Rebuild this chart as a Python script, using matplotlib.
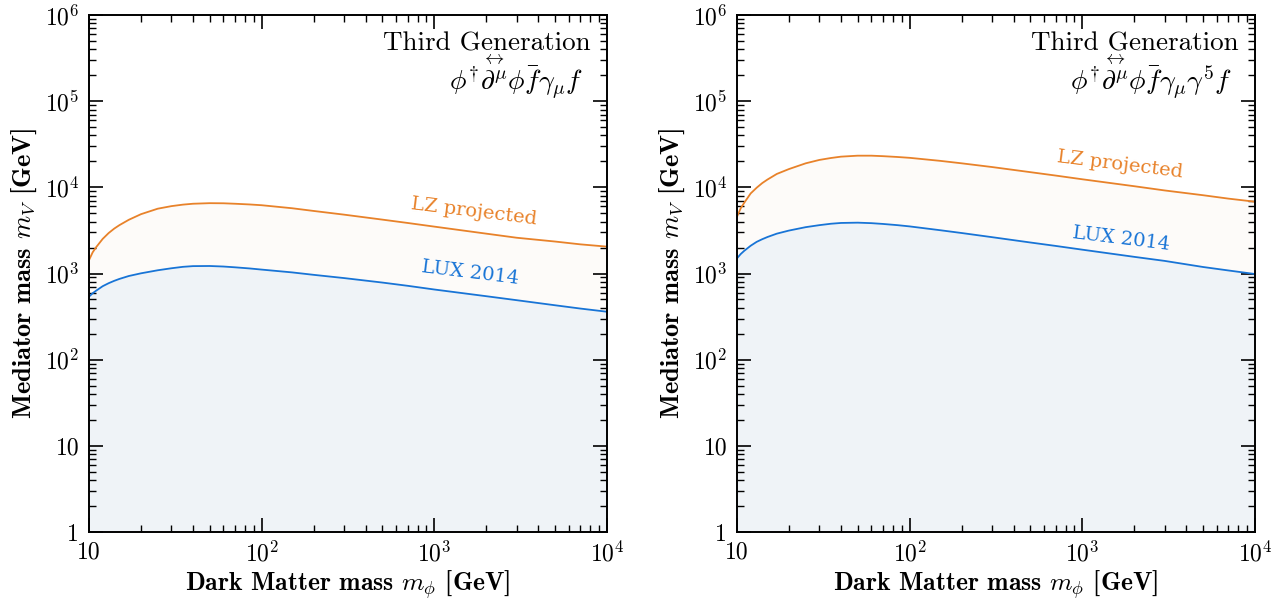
import math
import matplotlib
matplotlib.use('Agg')
import matplotlib.pyplot as plt
from matplotlib.ticker import FixedLocator, FuncFormatter, NullFormatter

plt.rcParams['font.family'] = ['cmr10', 'DejaVu Serif']
plt.rcParams['mathtext.fontset'] = 'cm'
plt.rcParams['axes.formatter.use_mathtext'] = True
plt.rcParams['axes.unicode_minus'] = False

# dark matter masses [GeV]
m_dm = [10, 10.5, 11, 12, 13, 14, 15, 17, 20, 25, 30, 35, 40, 50, 60, 70,
        85, 100, 150, 200, 300, 500, 700, 1000, 2000, 3000, 5000, 7000, 10000]

# vector coupling, mediator mass limits [GeV]
lux_vec = [538, 590, 632, 712, 772, 822, 865, 935, 1005, 1090, 1150, 1195,
           1218, 1222, 1205, 1180, 1145, 1110, 1030, 965, 885, 785, 720, 652,
           545, 490, 428, 392, 360]
lz_vec = [1430, 1760, 2020, 2520, 2950, 3320, 3640, 4200, 4880, 5650, 6050,
          6300, 6450, 6550, 6530, 6450, 6330, 6200, 5720, 5320, 4820, 4220,
          3860, 3500, 2900, 2600, 2350, 2180, 2050]

# axial coupling
lux_ax = [1500, 1680, 1830, 2100, 2330, 2500, 2650, 2900, 3150, 3450, 3640,
          3780, 3860, 3890, 3840, 3760, 3640, 3520, 3180, 2950, 2640, 2290,
          2090, 1890, 1560, 1400, 1190, 1085, 986]
lz_ax = [4560, 5700, 6600, 8500, 9900, 11200, 12300, 14300, 16300, 19000,
         20800, 21900, 22700, 23300, 23300, 23000, 22500, 22000, 20300, 19000,
         17200, 15000, 13700, 12400, 10300, 9200, 8100, 7400, 6810]

x_ticks = [10, 100, 1000, 10000]
y_ticks = [1, 10, 100, 1000, 10000, 100000, 1000000]

operators = [r'$\phi^{\dagger}\overset{\leftrightarrow}{\partial^{\mu}}\phi\bar{f}\gamma_{\mu}f$',
             r'$\phi^{\dagger}\overset{\leftrightarrow}{\partial^{\mu}}\phi\bar{f}\gamma_{\mu}\gamma^{5}f$']

c_lz = '#e8822a'
c_lux = '#1874d6'


def tick_fmt(v, pos):
    if abs(v - 1) < 1e-9:
        return '1'
    if abs(v - 10) < 1e-9:
        return '10'
    return r'$10^{%d}$' % int(round(math.log10(v)))


def minors(majors):
    return [m * k for m in majors[:-1] for k in range(2, 10)]


fig = plt.figure(figsize=(12.83, 5.99), dpi=100)
positions = [[89 / 1283, 1 - 532 / 599, 518 / 1283, 517 / 599],
             [737 / 1283, 1 - 532 / 599, 518 / 1283, 517 / 599]]
panels = [(lux_vec, lz_vec, (1700, 5250), (1620, 1000)),
          (lux_ax, lz_ax, (1650, 18400), (1690, 2530))]

for pos, (lux, lz, lz_xy, lux_xy), op in zip(positions, panels, operators):
    ax = fig.add_axes(pos)
    ax.set_xscale('log')
    ax.set_yscale('log')
    ax.set_xlim(10, 1e4)
    ax.set_ylim(1, 1e6)

    ax.fill_between(m_dm, 1, lux, color='#eff3f7', lw=0)
    ax.fill_between(m_dm, lux, lz, color='#fdfbf9', lw=0)
    ax.plot(m_dm, lz, color=c_lz, lw=1.3)
    ax.plot(m_dm, lux, color=c_lux, lw=1.3)

    ax.text(lz_xy[0], lz_xy[1], 'LZ projected', color=c_lz, fontsize=14,
            family='DejaVu Serif', rotation=-7, ha='center', va='center')
    ax.text(lux_xy[0], lux_xy[1], 'LUX 2014', color=c_lux, fontsize=14,
            family='DejaVu Serif', rotation=-7, ha='center', va='center')

    ax.text(0.968, 0.945, 'Third Generation', transform=ax.transAxes,
            fontsize=19.5, ha='right', va='center')
    ax.text(0.955, 0.88, op, transform=ax.transAxes,
            fontsize=20, ha='right', va='center')

    ax.xaxis.set_major_locator(FixedLocator(x_ticks))
    ax.yaxis.set_major_locator(FixedLocator(y_ticks))
    ax.xaxis.set_minor_locator(FixedLocator(minors(x_ticks)))
    ax.yaxis.set_minor_locator(FixedLocator(minors(y_ticks)))
    ax.xaxis.set_major_formatter(FuncFormatter(tick_fmt))
    ax.yaxis.set_major_formatter(FuncFormatter(tick_fmt))
    ax.xaxis.set_minor_formatter(NullFormatter())
    ax.yaxis.set_minor_formatter(NullFormatter())
    ax.tick_params(which='both', direction='in', top=True, right=True,
                   labelsize=17)
    ax.tick_params(which='major', length=10, width=1.2, pad=7)
    ax.tick_params(which='minor', length=5, width=1.0)
    for sp in ax.spines.values():
        sp.set_linewidth(1.4)

    ax.set_xlabel(r'Dark Matter mass $m_{\phi}$ [GeV]', fontsize=18.5,
                  family=['cmb10', 'DejaVu Serif'], labelpad=1)
    ax.set_ylabel(r'Mediator mass $m_V$ [GeV]', fontsize=19,
                  family=['cmb10', 'DejaVu Serif'], labelpad=4)

fig.savefig('out.png', dpi=100)
